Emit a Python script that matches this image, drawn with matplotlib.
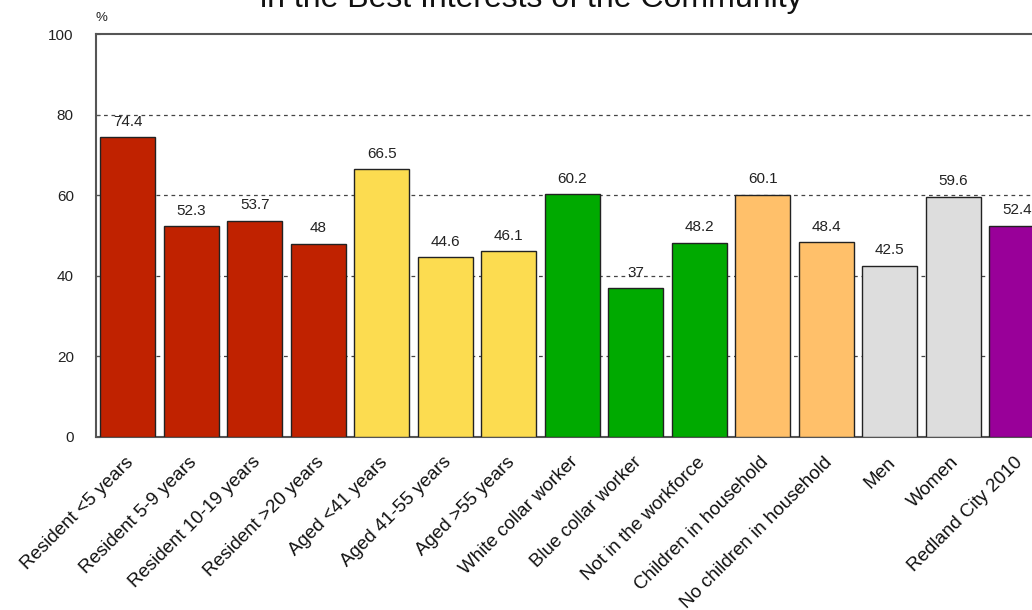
import matplotlib
matplotlib.use('Agg')
import matplotlib.pyplot as plt
import matplotlib.transforms as mtransforms

plt.rcParams['font.family'] = ['Liberation Sans', 'DejaVu Sans']

categories = ['Resident <5 years', 'Resident 5-9 years', 'Resident 10-19 years',
              'Resident >20 years', 'Aged <41 years', 'Aged 41-55 years',
              'Aged >55 years', 'White collar worker', 'Blue collar worker',
              'Not in the workforce', 'Children in household',
              'No children in household', 'Men', 'Women', 'Redland City 2010']
values = [74.4, 52.3, 53.7, 48, 66.5, 44.6, 46.1, 60.2, 37, 48.2, 60.1, 48.4,
          42.5, 59.6, 52.4]
groups = ['residence'] * 4 + ['age'] * 3 + ['work'] * 3 + ['children'] * 2 + \
         ['gender'] * 2 + ['total']
group_colors = {'residence': '#C02200', 'age': '#FCDC50', 'work': '#00AA00',
                'children': '#FFC06A', 'gender': '#DDDDDD', 'total': '#990099'}
yticks = [0, 20, 40, 60, 80, 100]

fig = plt.figure(figsize=(10.32, 6.10), dpi=100)
ax = fig.add_axes([96 / 1032, 173 / 610, 952.5 / 1032, 403 / 610])

x = range(len(categories))
bars = ax.bar(x, values, width=0.86, color=[group_colors[g] for g in groups],
              edgecolor='#222222', linewidth=1.0, zorder=3)

for b, v in zip(bars, values):
    ax.annotate(f'{v:g}', (b.get_x() + b.get_width() / 2, v),
                xytext=(0, 6), textcoords='offset points', ha='center',
                va='bottom', fontsize=11, color='#222222', zorder=4)

ax.set_xlim(-0.5, len(categories) - 0.5)
ax.set_ylim(0, 100)
ax.set_yticks(yticks)
ax.set_yticklabels([str(t) for t in yticks], fontsize=11, color='#222222')
ax.tick_params(axis='y', direction='in', length=3, pad=16, color='#555555')
ax.tick_params(axis='x', length=0, pad=12)
ax.set_xticks(list(x))
ax.set_xticklabels(categories, rotation=45, ha='right', va='top',
                   rotation_mode='anchor', fontsize=13.5, color='#111111')
# nudge the rotated labels a little to the left of the bar centres
shift = mtransforms.ScaledTranslation(-3 / 100, 0, fig.dpi_scale_trans)
for lbl in ax.get_xticklabels():
    lbl.set_transform(lbl.get_transform() + shift)

for t in yticks[1:-1]:
    ax.axhline(t, color='#444444', linewidth=0.9, linestyle=(0, (3, 3)), zorder=1)

for s in ax.spines.values():
    s.set_color('#555555')
    s.set_linewidth(1.5)

ax.text(0, 1.025, '%', transform=ax.transAxes, fontsize=9.5, color='#222222',
        ha='left', va='bottom')

fig.text(531 / 1032, 1 - 7 / 610, 'in the Best Interests of the Community',
         ha='center', va='baseline', fontsize=23, color='#111111')

fig.savefig('out.png', dpi=100)
